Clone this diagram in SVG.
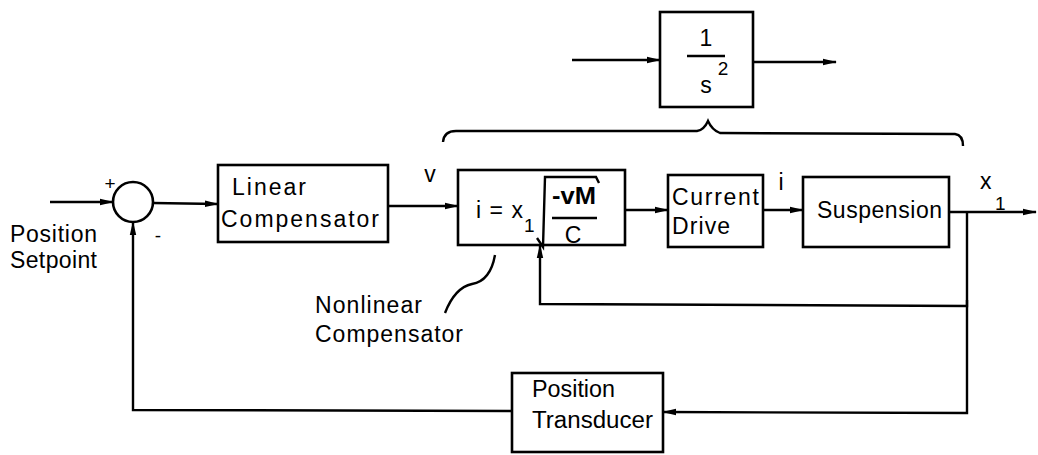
<svg xmlns="http://www.w3.org/2000/svg" width="1038" height="455" viewBox="0 0 1038 455">
<style>
.box{fill:#fff;stroke:#000;stroke-width:2.6}
.ln{fill:none;stroke:#000;stroke-width:2.4}
.t{font-family:"Liberation Sans",Arial,Helvetica,sans-serif;font-size:23px;fill:#000}
.s{font-family:"Liberation Sans",Arial,Helvetica,sans-serif;font-size:19px;fill:#000}
</style>
<defs>
<marker id="ar" markerWidth="14" markerHeight="8" refX="13" refY="4" orient="auto" markerUnits="userSpaceOnUse">
<path d="M0,0.8 L14,4 L0,7.2 Z" fill="#000"/>
</marker>
</defs>
<rect width="1038" height="455" fill="#fff"/>

<g id="connectors">
<line class="ln" x1="50" y1="202" x2="113" y2="202" marker-end="url(#ar)"/>
<line class="ln" x1="153" y1="203" x2="218" y2="204" marker-end="url(#ar)"/>
<line class="ln" x1="388" y1="206" x2="458" y2="206" marker-end="url(#ar)"/>
<line class="ln" x1="625" y1="210" x2="668" y2="210" marker-end="url(#ar)"/>
<line class="ln" x1="763" y1="210" x2="803" y2="210" marker-end="url(#ar)"/>
<line class="ln" x1="949" y1="212" x2="1036" y2="212" marker-end="url(#ar)"/>
<polyline class="ln" points="967,212 967,306 540,304 540,245" marker-end="url(#ar)"/>
<polyline class="ln" points="967,300 967,413 663,412" marker-end="url(#ar)"/>
<polyline class="ln" points="512,411 133,410 133,222" marker-end="url(#ar)"/>
<line class="ln" x1="572" y1="60" x2="660" y2="60" marker-end="url(#ar)"/>
<line class="ln" x1="753" y1="62" x2="836" y2="62" marker-end="url(#ar)"/>
<path class="ln" d="M443,142 Q444,131 456,131 L697,131 Q704,130 708,121 Q712,130 720,133 L955,134 Q963,135 963,146"/>
<path class="ln" d="M495,255 C492,272 484,282 472,284 C458,287 450,300 445,313" stroke-width="1.8"/>
</g>

<g id="integrator">
<rect class="box" x="660" y="12" width="93" height="95"/>
<text class="t" x="706" y="46" text-anchor="middle" font-size="20">1</text>
<line class="ln" x1="687" y1="56" x2="725" y2="56"/>
<text class="t" x="706" y="93" text-anchor="middle">s</text>
<text class="s" x="723" y="75" text-anchor="middle">2</text>
</g>

<g id="summing">
<circle cx="133" cy="202" r="20" fill="#fff" stroke="#000" stroke-width="2.6"/>
<text class="s" x="110" y="190" text-anchor="middle">+</text>
<text class="s" x="158" y="242" text-anchor="middle">-</text>
</g>

<g id="setpoint-label">
<text class="t" x="10" y="242" font-size="22" textLength="87" lengthAdjust="spacing">Position</text>
<text class="t" x="10" y="268" font-size="22" textLength="87" lengthAdjust="spacing">Setpoint</text>
</g>

<g id="linear-compensator">
<rect class="box" x="218" y="165" width="170" height="77"/>
<text class="t" x="232" y="195" textLength="74" lengthAdjust="spacing">Linear</text>
<text class="t" x="221" y="227" textLength="158" lengthAdjust="spacing">Compensator</text>
</g>

<text class="t" x="430" y="182" text-anchor="middle">v</text>

<g id="nonlinear-compensator">
<rect class="box" x="458" y="170" width="167" height="75"/>
<text class="t" x="476" y="218" textLength="47" lengthAdjust="spacing">i = x</text>
<text class="s" x="524" y="232">1</text>
<polyline class="ln" points="537,238 543,247 545,177 596,177 599,183" stroke-width="2.2"/>
<text class="t" x="552" y="204" textLength="44" lengthAdjust="spacingAndGlyphs" font-weight="bold" font-size="21">-vM</text>
<line class="ln" x1="552" y1="218" x2="597" y2="218"/>
<text class="t" x="573" y="243" text-anchor="middle">C</text>
</g>

<g id="nonlinear-label">
<text class="t" x="315" y="313" textLength="107" lengthAdjust="spacing">Nonlinear</text>
<text class="t" x="315" y="342" textLength="148" lengthAdjust="spacing">Compensator</text>
</g>

<g id="current-drive">
<rect class="box" x="668" y="175" width="95" height="72"/>
<text class="t" x="672" y="205" textLength="87" lengthAdjust="spacing">Current</text>
<text class="t" x="672" y="234" textLength="58" lengthAdjust="spacing">Drive</text>
</g>

<text class="t" x="781" y="190" text-anchor="middle">i</text>

<g id="suspension">
<rect class="box" x="803" y="177" width="146" height="70"/>
<text class="t" x="817" y="218" textLength="125" lengthAdjust="spacing">Suspension</text>
</g>

<g id="x1-label">
<text class="t" x="980" y="189">x</text>
<text class="s" x="995" y="210">1</text>
</g>

<g id="position-transducer">
<rect class="box" x="512" y="373" width="151" height="79"/>
<text class="t" x="532" y="397" textLength="83" lengthAdjust="spacingAndGlyphs">Position</text>
<text class="t" x="532" y="428" textLength="121" lengthAdjust="spacingAndGlyphs">Transducer</text>
</g>
</svg>
